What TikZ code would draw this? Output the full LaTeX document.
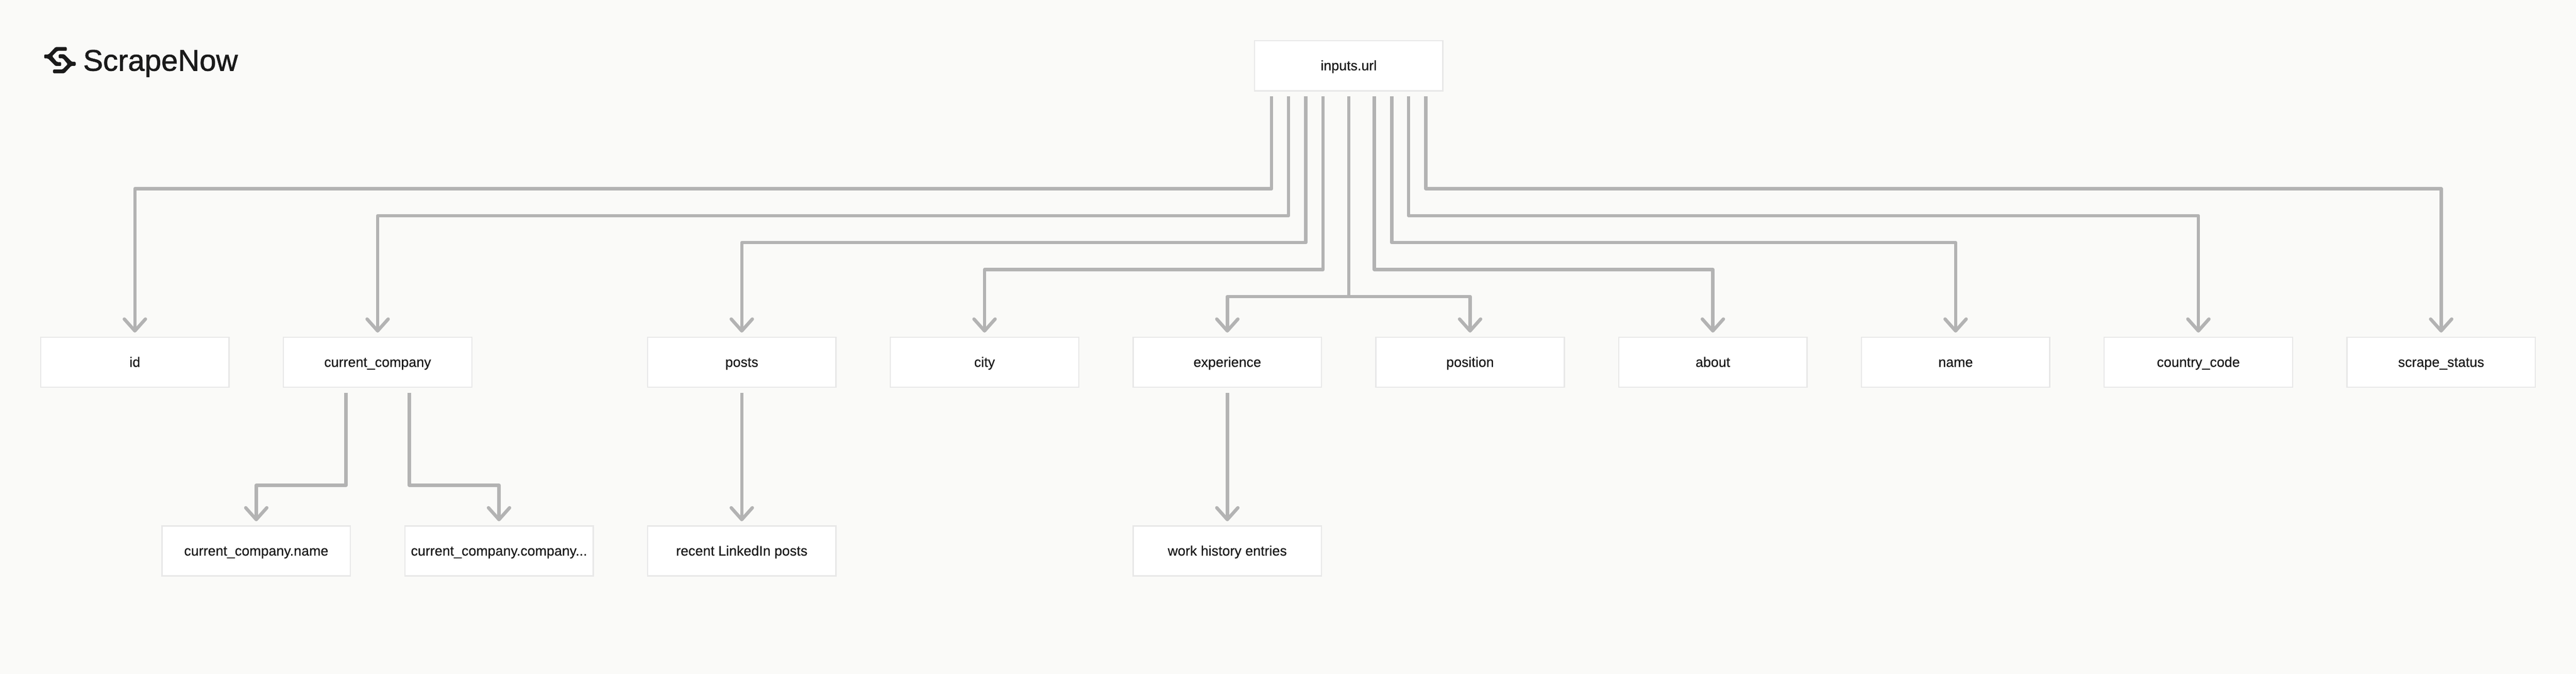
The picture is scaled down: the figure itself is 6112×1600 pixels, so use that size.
\documentclass[tikz,border=0pt]{standalone}
\usepackage{fontspec}
\setmainfont{Liberation Sans}
\newfontfamily\logofont[FakeBold=1.2]{Liberation Sans}
\newfontfamily\boxfont[FakeBold=0.4]{Liberation Sans}
\usetikzlibrary{arrows.meta}
\definecolor{bgc}{HTML}{FAFAF8}
\definecolor{bordc}{HTML}{E8E8E8}
\definecolor{linec}{HTML}{B3B3B3}
\definecolor{inkc}{HTML}{1A1A1A}
\tikzset{
  box/.style={draw=bordc,fill=white,line width=3pt,minimum width=447pt,minimum height=119pt,
    inner sep=0pt,outer sep=0pt,text=inkc,text height=24pt,text depth=2pt,
    font=\boxfont\fontsize{32.8pt}{36pt}\selectfont},
  conn/.style={draw=linec,line width=8pt,line join=round,
    -{Straight Barb[length=28pt,width=50pt,line width=8pt,round]}},
  stem/.style={draw=linec,line width=8pt,line join=round},
  logoshape/.style={fill=inkc,rounded corners=2pt},
}
\begin{document}
\begin{tikzpicture}[x=1pt,y=-1pt]
\fill[bgc] (0,0) rectangle (6112,1600);
\useasboundingbox (0,0) rectangle (6112,1600);
% logo
\foreach \ang in {0,180}{
\fill[logoshape,rotate around={\ang:(142.2,142.8)}]
  (131.7,111.7) -- (158.5,111.7) -- (158.5,120.7) -- (136.2,120.7) -- (123.7,133.3)
  -- (135.3,147.3) -- (145.1,147.3) -- (145.1,156.7) -- (131.7,156.7) -- (113.8,138.7)
  -- (104.9,138.7) -- (104.9,129.3) -- (115.2,129.3) -- cycle;
}
\node[anchor=base west,inner sep=0pt,text=inkc,font=\logofont\fontsize{71pt}{80pt}\selectfont] (logo) at (197,168) {ScrapeNow};
% boxes
\node[box] (root) at (3200,156) {inputs.url};
\node[box] (nid) at (320,860) {id};
\node[box] (ncc) at (896,860) {current\_company};
\node[box] (nposts) at (1760,860) {posts};
\node[box] (ncity) at (2336,860) {city};
\node[box] (nexp) at (2912,860) {experience};
\node[box] (npos) at (3488,860) {position};
\node[box] (nabout) at (4064,860) {about};
\node[box] (nname) at (4640,860) {name};
\node[box] (ncountry) at (5216,860) {country\_code};
\node[box] (nscrape) at (5792,860) {scrape\_status};
\node[box] (nccname) at (608,1308) {current\_company.name};
\node[box] (ncccomp) at (1184,1308) {current\_company.company...};
\node[box] (nrecent) at (1760,1308) {recent LinkedIn posts};
\node[box] (nwork) at (2912,1308) {work history entries};
% connectors from root
\draw[conn] ([xshift=-183pt,yshift=-13pt]root.south) |- (nid.north |- 0,448) -- ([yshift=11pt]nid.north);
\draw[conn] ([xshift=-143pt,yshift=-13pt]root.south) |- (ncc.north |- 0,512) -- ([yshift=11pt]ncc.north);
\draw[conn] ([xshift=-102pt,yshift=-13pt]root.south) |- (nposts.north |- 0,576) -- ([yshift=11pt]nposts.north);
\draw[conn] ([xshift=-61pt,yshift=-13pt]root.south) |- (ncity.north |- 0,640) -- ([yshift=11pt]ncity.north);
\draw[stem] ([yshift=-13pt]root.south) -- (root.south |- 0,704);
\draw[conn] (root.south |- 0,704) -- (nexp.north |- 0,704) -- ([yshift=11pt]nexp.north);
\draw[conn] (root.south |- 0,704) -- (npos.north |- 0,704) -- ([yshift=11pt]npos.north);
\draw[conn] ([xshift=61pt,yshift=-13pt]root.south) |- (nabout.north |- 0,640) -- ([yshift=11pt]nabout.north);
\draw[conn] ([xshift=102pt,yshift=-13pt]root.south) |- (nname.north |- 0,576) -- ([yshift=11pt]nname.north);
\draw[conn] ([xshift=142pt,yshift=-13pt]root.south) |- (ncountry.north |- 0,512) -- ([yshift=11pt]ncountry.north);
\draw[conn] ([xshift=183pt,yshift=-13pt]root.south) |- (nscrape.north |- 0,448) -- ([yshift=11pt]nscrape.north);
% lower
\draw[conn] ([xshift=-75pt,yshift=-13pt]ncc.south) |- (nccname.north |- 0,1152) -- ([yshift=11pt]nccname.north);
\draw[conn] ([xshift=75pt,yshift=-13pt]ncc.south) |- (ncccomp.north |- 0,1152) -- ([yshift=11pt]ncccomp.north);
\draw[conn] ([yshift=-13pt]nposts.south) -- ([yshift=11pt]nrecent.north);
\draw[conn] ([yshift=-13pt]nexp.south) -- ([yshift=11pt]nwork.north);
\end{tikzpicture}
\end{document}
